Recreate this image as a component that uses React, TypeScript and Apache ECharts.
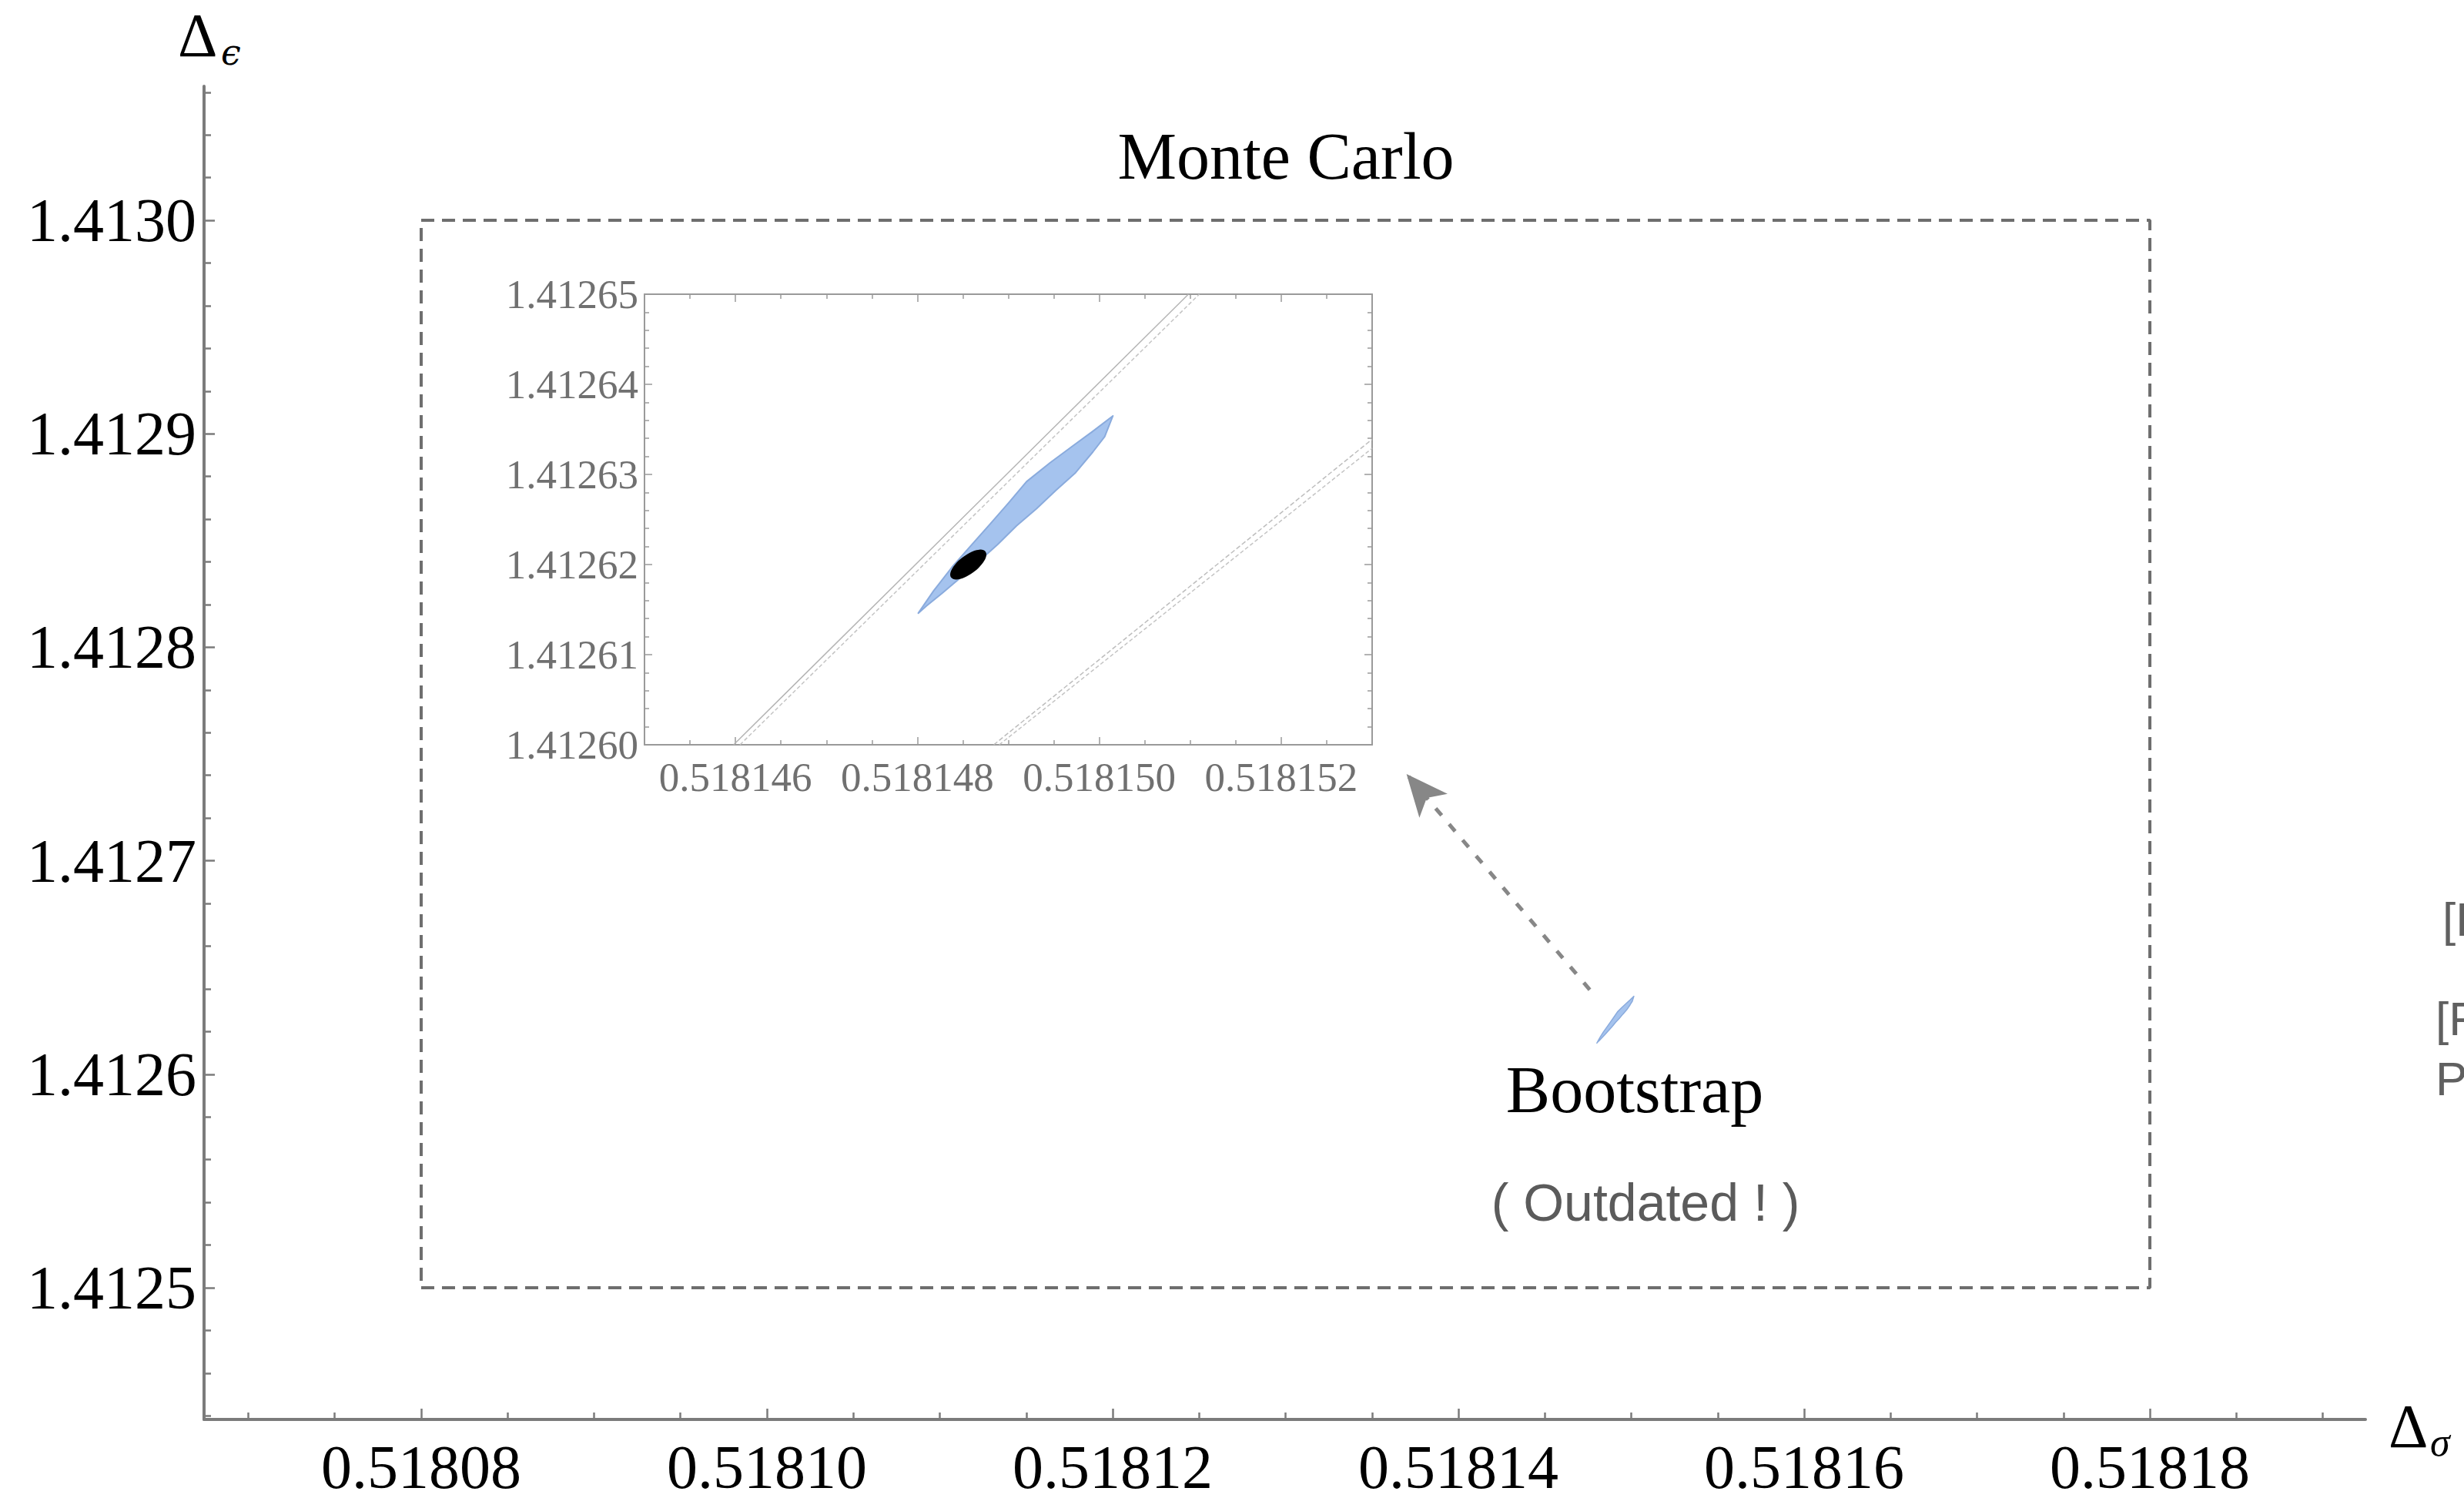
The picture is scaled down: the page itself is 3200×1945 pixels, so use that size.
import React, { useEffect, useRef } from "react";
import * as echarts from "echarts";

// ---------- main axes ----------
const mainXTicks = [0.51808, 0.5181, 0.51812, 0.51814, 0.51816, 0.51818];
const mainYTicks = [1.4125, 1.4126, 1.4127, 1.4128, 1.4129, 1.413];
const mainXRange = [0.51806744, 0.51819247];
const mainYRange = [1.4124383, 1.4130628];
const mainXMinorStep = 0.000005;
const mainYMinorStep = 0.00002;

// ---------- inset axes ----------
const insetXTicks = [0.518146, 0.518148, 0.51815, 0.518152];
const insetYTicks = [1.4126, 1.41261, 1.41262, 1.41263, 1.41264, 1.41265];
const insetXRange = [0.518145, 0.518153];
const insetYRange = [1.4126, 1.41265];
const insetXMinorStep = 0.0000005;
const insetYMinorStep = 0.000002;

// ---------- Monte Carlo box ----------
const mcBoxX = [0.51808, 0.51818];
const mcBoxY = [1.4125, 1.413];

// ---------- bootstrap allowed region (outline) ----------
const bootUpperX = [0.51814801, 0.51814818, 0.51814838, 0.51814858, 0.5181488, 0.518149, 0.5181492, 0.51814946, 0.5181497, 0.51814993, 0.51815015];
const bootUpperY = [1.4126146, 1.4126171, 1.4126197, 1.412622, 1.4126245, 1.4126268, 1.4126292, 1.4126313, 1.4126331, 1.4126348, 1.4126365];
const bootLowerX = [0.51815006, 0.51814993, 0.51814974, 0.51814952, 0.51814931, 0.51814909, 0.51814888, 0.51814867, 0.51814847, 0.51814827, 0.5181481];
const bootLowerY = [1.4126342, 1.4126325, 1.4126302, 1.4126282, 1.4126262, 1.4126243, 1.4126222, 1.4126203, 1.4126185, 1.4126168, 1.4126154];

// ---------- best (black) region ----------
const bestFit = [0.51814856, 1.41262];

// ---------- thin contour lines in inset ----------
const lineAX = [0.51814598, 0.51815098];
const lineAY = [1.4126, 1.41265];
const lineBX = [0.51814605, 0.5181511];
const lineBY = [1.4126, 1.41265];
const lineCX = [0.51814884, 0.518153];
const lineCY = [1.4126, 1.4126339];
const lineDX = [0.5181489, 0.518153];
const lineDY = [1.4126, 1.4126329];

// ---------- arrow (bootstrap -> inset) ----------
const arrowX = [0.5181476, 0.518137];
const arrowY = [1.4126396, 1.4127406];

function minorTicks(range: number[], step: number, majors: number[]) {
  const out: number[] = [];
  const k0 = Math.ceil(range[0] / step - 1e-6);
  const k1 = Math.floor(range[1] / step + 1e-6);
  for (let k = k0; k <= k1; k++) {
    const v = +(k * step).toFixed(10);
    if (!majors.some((m) => Math.abs(m - v) < step * 1e-3)) out.push(v);
  }
  return out;
}

const SERIF = '"Liberation Serif", "DejaVu Serif", serif';

function axis(o: any) {
  return {
    type: "value",
    gridIndex: o.grid,
    position: o.position,
    min: o.range[0],
    max: o.range[1],
    scale: true,
    axisLine: {
      show: !!o.line,
      onZero: false,
      lineStyle: { color: o.color, width: o.lineWidth || 2 },
    },
    axisTick: {
      show: true,
      inside: true,
      length: o.tickLen,
      customValues: o.ticks,
      lineStyle: { color: o.color, width: o.tickWidth || 2 },
    },
    axisLabel: o.labels
      ? {
          show: true,
          customValues: o.ticks,
          formatter: (v: number) => v.toFixed(o.digits),
          fontFamily: SERIF,
          fontSize: o.fontSize,
          color: o.labelColor,
          margin: o.margin,
          hideOverlap: false,
        }
      : { show: false },
    splitLine: { show: false },
    minorTick: { show: false },
    minorSplitLine: { show: false },
  };
}

export default function App() {
  const ref = useRef<HTMLDivElement>(null);
  useEffect(() => {
    if (!ref.current) return;
    const chart = echarts.init(ref.current, null, { renderer: "svg" });
    const mainGray = "#7b7b7b";
    const insetGray = "#9a9a9a";

    const xAxes = [
      axis({ grid: 0, position: "bottom", range: mainXRange, line: true, lineWidth: 4, color: mainGray, tickLen: 14, tickWidth: 2.5, ticks: mainXTicks, labels: true, digits: 5, fontSize: 80, labelColor: "#000", margin: 22 }),
      axis({ grid: 0, position: "bottom", range: mainXRange, color: mainGray, tickLen: 9, tickWidth: 2.5, ticks: minorTicks(mainXRange, mainXMinorStep, mainXTicks) }),
      axis({ grid: 1, position: "bottom", range: insetXRange, line: true, lineWidth: 2, color: insetGray, tickLen: 10, tickWidth: 1.5, ticks: insetXTicks, labels: true, digits: 6, fontSize: 53, labelColor: "#707070", margin: 15 }),
      axis({ grid: 1, position: "bottom", range: insetXRange, color: insetGray, tickLen: 6, tickWidth: 1.5, ticks: minorTicks(insetXRange, insetXMinorStep, insetXTicks) }),
      axis({ grid: 1, position: "top", range: insetXRange, line: true, lineWidth: 2, color: insetGray, tickLen: 10, tickWidth: 1.5, ticks: insetXTicks }),
      axis({ grid: 1, position: "top", range: insetXRange, color: insetGray, tickLen: 6, tickWidth: 1.5, ticks: minorTicks(insetXRange, insetXMinorStep, insetXTicks) }),
    ];
    const yAxes = [
      axis({ grid: 0, position: "left", range: mainYRange, line: true, lineWidth: 4, color: mainGray, tickLen: 14, tickWidth: 2.5, ticks: mainYTicks, labels: true, digits: 4, fontSize: 80, labelColor: "#000", margin: 10 }),
      axis({ grid: 0, position: "left", range: mainYRange, color: mainGray, tickLen: 9, tickWidth: 2.5, ticks: minorTicks(mainYRange, mainYMinorStep, mainYTicks) }),
      axis({ grid: 1, position: "left", range: insetYRange, line: true, lineWidth: 2, color: insetGray, tickLen: 10, tickWidth: 1.5, ticks: insetYTicks, labels: true, digits: 5, fontSize: 53, labelColor: "#707070", margin: 8 }),
      axis({ grid: 1, position: "left", range: insetYRange, color: insetGray, tickLen: 6, tickWidth: 1.5, ticks: minorTicks(insetYRange, insetYMinorStep, insetYTicks) }),
      axis({ grid: 1, position: "right", range: insetYRange, line: true, lineWidth: 2, color: insetGray, tickLen: 10, tickWidth: 1.5, ticks: insetYTicks }),
      axis({ grid: 1, position: "right", range: insetYRange, color: insetGray, tickLen: 6, tickWidth: 1.5, ticks: minorTicks(insetYRange, insetYMinorStep, insetYTicks) }),
    ];

    const bootX = bootUpperX.concat(bootLowerX);
    const bootY = bootUpperY.concat(bootLowerY);
    const regionSeries = (xi: number, yi: number, lw: number) => ({
      type: "custom",
      xAxisIndex: xi,
      yAxisIndex: yi,
      clip: true,
      silent: true,
      data: [[bootX[0], bootY[0]]],
      renderItem: (_p: any, api: any) => ({
        type: "polygon",
        shape: { points: bootX.map((x, i) => api.coord([x, bootY[i]])) },
        style: { fill: "#a5c3ee", stroke: "#8aabdd", lineWidth: lw, lineJoin: "round" },
      }),
    });
    const thinLine = (xs: number[], ys: number[], color: string, type: any) => ({
      type: "line",
      xAxisIndex: 2,
      yAxisIndex: 2,
      data: xs.map((x, i) => [x, ys[i]]),
      showSymbol: false,
      symbol: "none",
      silent: true,
      lineStyle: { color, width: 1.5, type },
      z: 1,
    });

    const option: any = {
      animation: false,
      backgroundColor: "#ffffff",
      grid: [
        { left: 265, top: 112, width: 2807, height: 1731, outerBoundsMode: "none", containLabel: false },
        { left: 837, top: 382, width: 945, height: 585, outerBoundsMode: "none", containLabel: false },
      ],
      xAxis: xAxes,
      yAxis: yAxes,
      series: [
        {
          type: "line",
          xAxisIndex: 0,
          yAxisIndex: 0,
          data: [
            [mcBoxX[0], mcBoxY[0]],
            [mcBoxX[1], mcBoxY[0]],
            [mcBoxX[1], mcBoxY[1]],
            [mcBoxX[0], mcBoxY[1]],
            [mcBoxX[0], mcBoxY[0]],
          ],
          showSymbol: false,
          symbol: "none",
          silent: true,
          lineStyle: { color: "#6e6e6e", width: 4, type: [17, 10] },
        },
        regionSeries(0, 0, 1.5),
        {
          type: "line",
          xAxisIndex: 0,
          yAxisIndex: 0,
          data: [],
          markLine: {
            silent: true,
            animation: false,
            symbol: ["none", "arrow"],
            symbolSize: [36, 54],
            label: { show: false },
            lineStyle: { color: "#878787", width: 5, type: [12, 15] },
            data: [[{ coord: [arrowX[0], arrowY[0]] }, { coord: [arrowX[1], arrowY[1]] }]],
          },
        },
        thinLine(lineAX, lineAY, "#b4b4b4", "solid"),
        thinLine(lineBX, lineBY, "#c4c4c4", [5, 3]),
        thinLine(lineCX, lineCY, "#bdbdbd", [6, 3]),
        thinLine(lineDX, lineDY, "#c4c4c4", [5, 3]),
        regionSeries(2, 2, 2),
        {
          type: "scatter",
          xAxisIndex: 2,
          yAxisIndex: 2,
          data: [bestFit],
          symbol: "circle",
          symbolSize: [56, 24],
          symbolRotate: 37,
          silent: true,
          itemStyle: { color: "#000000", opacity: 1 },
          z: 5,
        },
      ],
      graphic: [
        { type: "text", x: 231, y: 46, style: { text: "Δ", font: `80px ${SERIF}`, fill: "#000", align: "left", verticalAlign: "middle" } },
        { type: "text", x: 287, y: 68, style: { text: "ϵ", font: `italic 46px "DejaVu Serif", serif`, fill: "#000", align: "left", verticalAlign: "middle" } },
        { type: "text", x: 3102, y: 1852, style: { text: "Δ", font: `80px ${SERIF}`, fill: "#000", align: "left", verticalAlign: "middle" } },
        { type: "text", x: 3156, y: 1872, style: { text: "σ", font: `italic 52px ${SERIF}`, fill: "#000", align: "left", verticalAlign: "middle" } },
        { type: "text", x: 1670, y: 203, style: { text: "Monte Carlo", font: `86px ${SERIF}`, fill: "#000", align: "center", verticalAlign: "middle" } },
        { type: "text", x: 2123, y: 1415, style: { text: "Bootstrap", font: `86px ${SERIF}`, fill: "#000", align: "center", verticalAlign: "middle" } },
        { type: "text", x: 2137, y: 1561, style: { text: "( Outdated ! )", font: `68px "Liberation Sans", Arial, sans-serif`, fill: "#5b5b5b", align: "center", verticalAlign: "middle" } },
        { type: "text", x: 3172, y: 1193, style: { text: "[F", font: `62px "Liberation Sans", Arial, sans-serif`, fill: "#606060", align: "left", verticalAlign: "middle" } },
        { type: "text", x: 3163, y: 1322, style: { text: "[F", font: `62px "Liberation Sans", Arial, sans-serif`, fill: "#606060", align: "left", verticalAlign: "middle" } },
        { type: "text", x: 3163, y: 1400, style: { text: "P", font: `62px "Liberation Sans", Arial, sans-serif`, fill: "#606060", align: "left", verticalAlign: "middle" } },
      ],
    };
    chart.setOption(option);
    return () => chart.dispose();
  }, []);
  return (
    <div
      ref={ref}
      style={{ position: "fixed", left: 0, top: 0, width: 3200, height: 1945, background: "#fff" }}
    />
  );
}
